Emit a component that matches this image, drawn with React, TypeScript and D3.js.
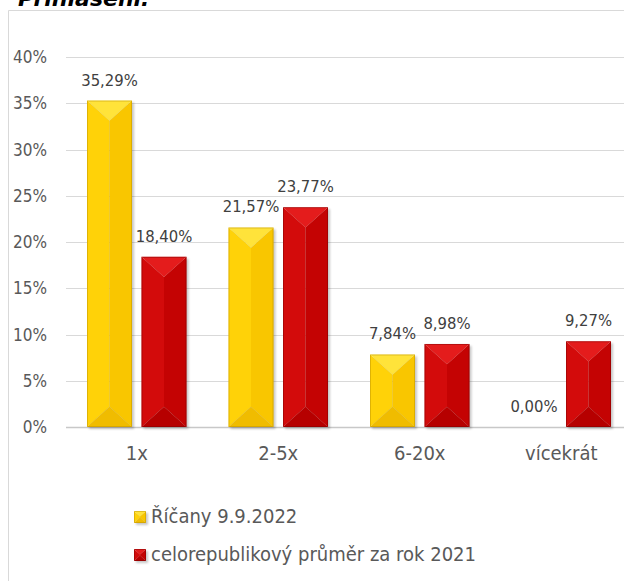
import React from "react";
import * as d3 from "d3";

const categories = ["1x", "2-5x", "6-20x", "vícekrát"];
const seriesNames = ["Říčany 9.9.2022", "celorepublikový průměr za rok 2021"];
const ricanyValues = [35.29, 21.57, 7.84, 0.0];
const czValues = [18.4, 23.77, 8.98, 9.27];
const yTicks = [0, 5, 10, 15, 20, 25, 30, 35, 40];
const titleText = "Přihlášeni:";

const W = 624;
const H = 581;
const FONT = "'DejaVu Sans Condensed', 'DejaVu Sans', sans-serif";
const TXT = "#595959";

type Pal = { top: string; left: string; right: string; bottom: string; edge: string };
const palettes: Pal[] = [
  { top: "#FFE33A", left: "#FFD208", right: "#F9C600", bottom: "#F0BC00", edge: "#B88E00" },
  { top: "#E41C1C", left: "#D30B0B", right: "#C40303", bottom: "#B60000", edge: "#7A0000" },
];

function BevelRect({ x0, y0, w, h, pal }: { x0: number; y0: number; w: number; h: number; pal: Pal }) {
  if (h <= 0) return null;
  const x1 = x0 + w;
  const y1 = y0 + h;
  const xm = x0 + w / 2;
  const d = Math.min(w * 0.45, h / 2);
  const pts = (a: number[][]) => a.map((p) => p.join(",")).join(" ");
  return (
    <g>
      <rect x={x0 + 2} y={y0 + 2} width={w} height={h} fill="rgba(0,0,0,0.22)" filter="url(#shadow)" />
      <polygon points={pts([[x0, y0], [xm, y0 + d], [xm, y1 - d], [x0, y1]])} fill={pal.left} />
      <polygon points={pts([[x1, y0], [xm, y0 + d], [xm, y1 - d], [x1, y1]])} fill={pal.right} />
      <polygon points={pts([[x0, y0], [x1, y0], [xm, y0 + d]])} fill={pal.top} />
      <polygon points={pts([[x0, y1], [x1, y1], [xm, y1 - d]])} fill={pal.bottom} />
      <rect x={x0 + 0.5} y={y0 + 0.5} width={w - 1} height={h - 1} fill="none" stroke={pal.edge} strokeOpacity={0.45} strokeWidth={1} />
    </g>
  );
}

const fmt = (v: number) => v.toFixed(2).replace(".", ",") + "%";

export default function App() {
  const plotLeft = 66;
  const step = 141.5;
  const x0 = d3
    .scaleBand<string>()
    .domain(categories)
    .range([plotLeft, plotLeft + step * categories.length])
    .paddingInner(42 / step)
    .paddingOuter(21 / step);
  const x1 = d3
    .scaleBand<string>()
    .domain(seriesNames)
    .range([0, x0.bandwidth()])
    .paddingInner(9.5 / 54.5)
    .paddingOuter(0);
  const y = d3.scaleLinear().domain([0, 40]).range([427, 57]);
  const allValues = [ricanyValues, czValues];

  return (
    <svg
      width={W}
      height={H}
      style={{ position: "absolute", left: 0, top: 0, background: "#fff" }}
      fontFamily={FONT}
    >
      <defs>
        <filter id="shadow" x="-20%" y="-20%" width="150%" height="150%">
          <feGaussianBlur stdDeviation="1.2" />
        </filter>
      </defs>
      <rect x={0} y={0} width={W} height={H} fill="#fff" />
      <text x={18} y={6} fontFamily="'DejaVu Sans', sans-serif" fontWeight="bold" fontStyle="italic" fontSize={22} fill="#000">
        {titleText}
      </text>
      <path d={`M8.5,${H + 2} V10.5 H${W + 2}`} fill="none" stroke="#d9d9d9" strokeWidth={1} />
      {yTicks.map((t) => (
        <line key={t} x1={plotLeft} x2={W + 2} y1={Math.round(y(t)) + 0.5} y2={Math.round(y(t)) + 0.5} stroke={t === 0 ? "#c8c8c8" : "#d9d9d9"} strokeWidth={t === 0 ? 1.5 : 1} />
      ))}
      {yTicks.map((t) => (
        <text key={"l" + t} x={47} y={y(t) + 6} textAnchor="end" fontSize={17} fill={TXT}>
          {t + "%"}
        </text>
      ))}
      {categories.map((c, ci) => (
        <g key={c}>
          {seriesNames.map((s, si) => {
            const v = allValues[si][ci];
            const bx = (x0(c) as number) + (x1(s) as number);
            const bw = x1.bandwidth();
            const top = y(v);
            return (
              <g key={s}>
                <BevelRect x0={bx} y0={top} w={bw} h={y(0) - top} pal={palettes[si]} />
                <text x={bx + bw / 2} y={top - 15} textAnchor="middle" fontSize={16.5} fill="#404040">
                  {fmt(v)}
                </text>
              </g>
            );
          })}
          <text x={(x0(c) as number) + x0.bandwidth() / 2} y={460} textAnchor="middle" fontSize={20} fill={TXT}>
            {c}
          </text>
        </g>
      ))}
      {seriesNames.map((s, si) => (
        <g key={"lg" + s} transform={`translate(134, ${511 + si * 38})`}>
          <BevelRect x0={0} y0={0} w={12} h={12} pal={palettes[si]} />
          <text x={17} y={12} fontSize={20} fill={TXT}>
            {s}
          </text>
        </g>
      ))}
    </svg>
  );
}
